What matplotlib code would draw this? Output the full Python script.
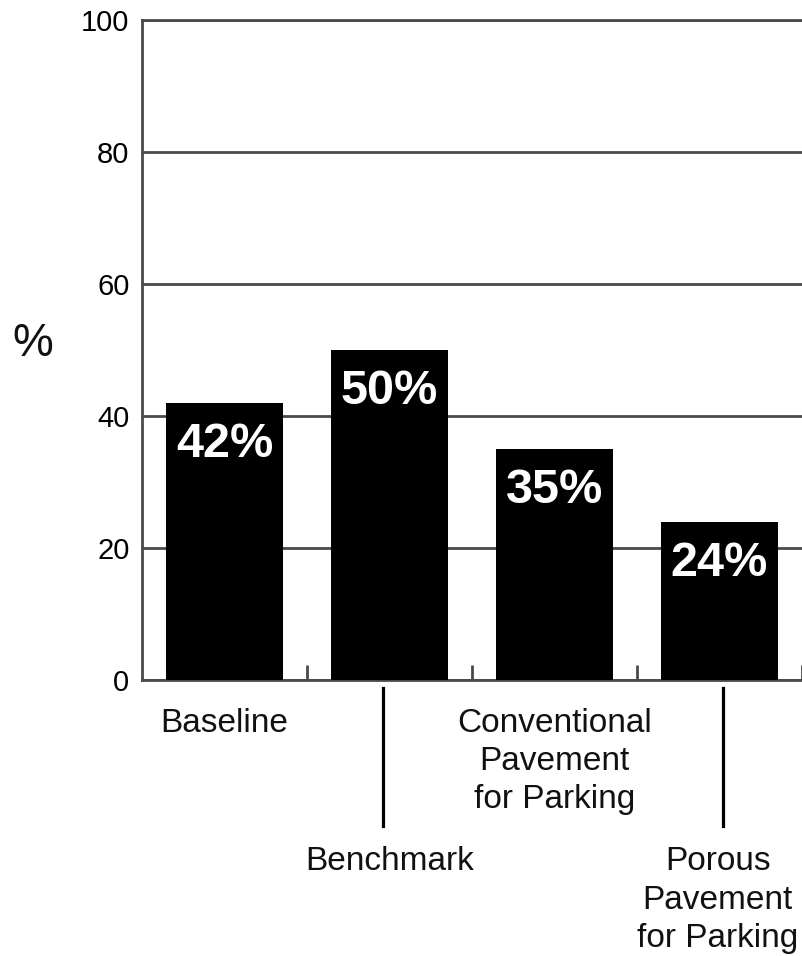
import matplotlib.pyplot as plt
from matplotlib.transforms import blended_transform_factory

categories = ["Baseline", "Benchmark", "Conventional\nPavement\nfor Parking", "Porous\nPavement\nfor Parking"]
values = [42, 50, 35, 24]
value_labels = ["42%", "50%", "35%", "24%"]
yticks = [0, 20, 40, 60, 80, 100]

plt.rcParams['font.family'] = ['Liberation Sans', 'DejaVu Sans']
line_col = '#4a4a4a'

fig = plt.figure(figsize=(8.03, 9.56), dpi=100)
ax = fig.add_axes([142 / 803, 1 - 680 / 956, 660 / 803, 660 / 956])

x = list(range(len(categories)))
ax.bar(x, values, width=0.715, color='black', zorder=3)

for i, (v, lab) in enumerate(zip(values, value_labels)):
    ax.annotate(lab, (i, v), xytext=(0, -39), textcoords='offset points',
                ha='center', va='baseline', color='white', fontsize=35,
                fontweight='bold', zorder=4)

ax.set_xlim(-0.5, 3.5)
ax.set_ylim(0, 100)
ax.set_yticks(yticks)
ax.set_yticklabels([str(t) for t in yticks], fontsize=21)
ax.tick_params(axis='y', length=0, pad=9)
ax.set_xticks([0.5, 1.5, 2.5, 3.5])
ax.set_xticklabels([])
ax.tick_params(axis='x', direction='in', length=11, width=2, color=line_col)
ax.yaxis.grid(True, color=line_col, linewidth=2, zorder=1)
ax.set_axisbelow(True)

for side in ['left', 'top', 'bottom']:
    ax.spines[side].set_color(line_col)
    ax.spines[side].set_linewidth(2)
ax.spines['right'].set_visible(False)

# staggered category labels with separator lines
trans = blended_transform_factory(ax.transData, ax.transAxes)
for i, cat in enumerate(categories):
    y = -0.042 if i % 2 == 0 else -0.252
    ax.text(i - 0.01 * (i == 3), y, cat, transform=trans, ha='center', va='top',
            fontsize=24, linespacing=1.3, color='#111111')
for sx in [0.96, 3.02]:
    ax.plot([sx, sx], [-0.012, -0.221], transform=trans, color='black',
            linewidth=2.3, clip_on=False)

fig.text(33 / 803, 1 - 344 / 956, "%", fontsize=33, ha='center', va='center',
         color='#111111')

fig.savefig("out.png", dpi=100)
